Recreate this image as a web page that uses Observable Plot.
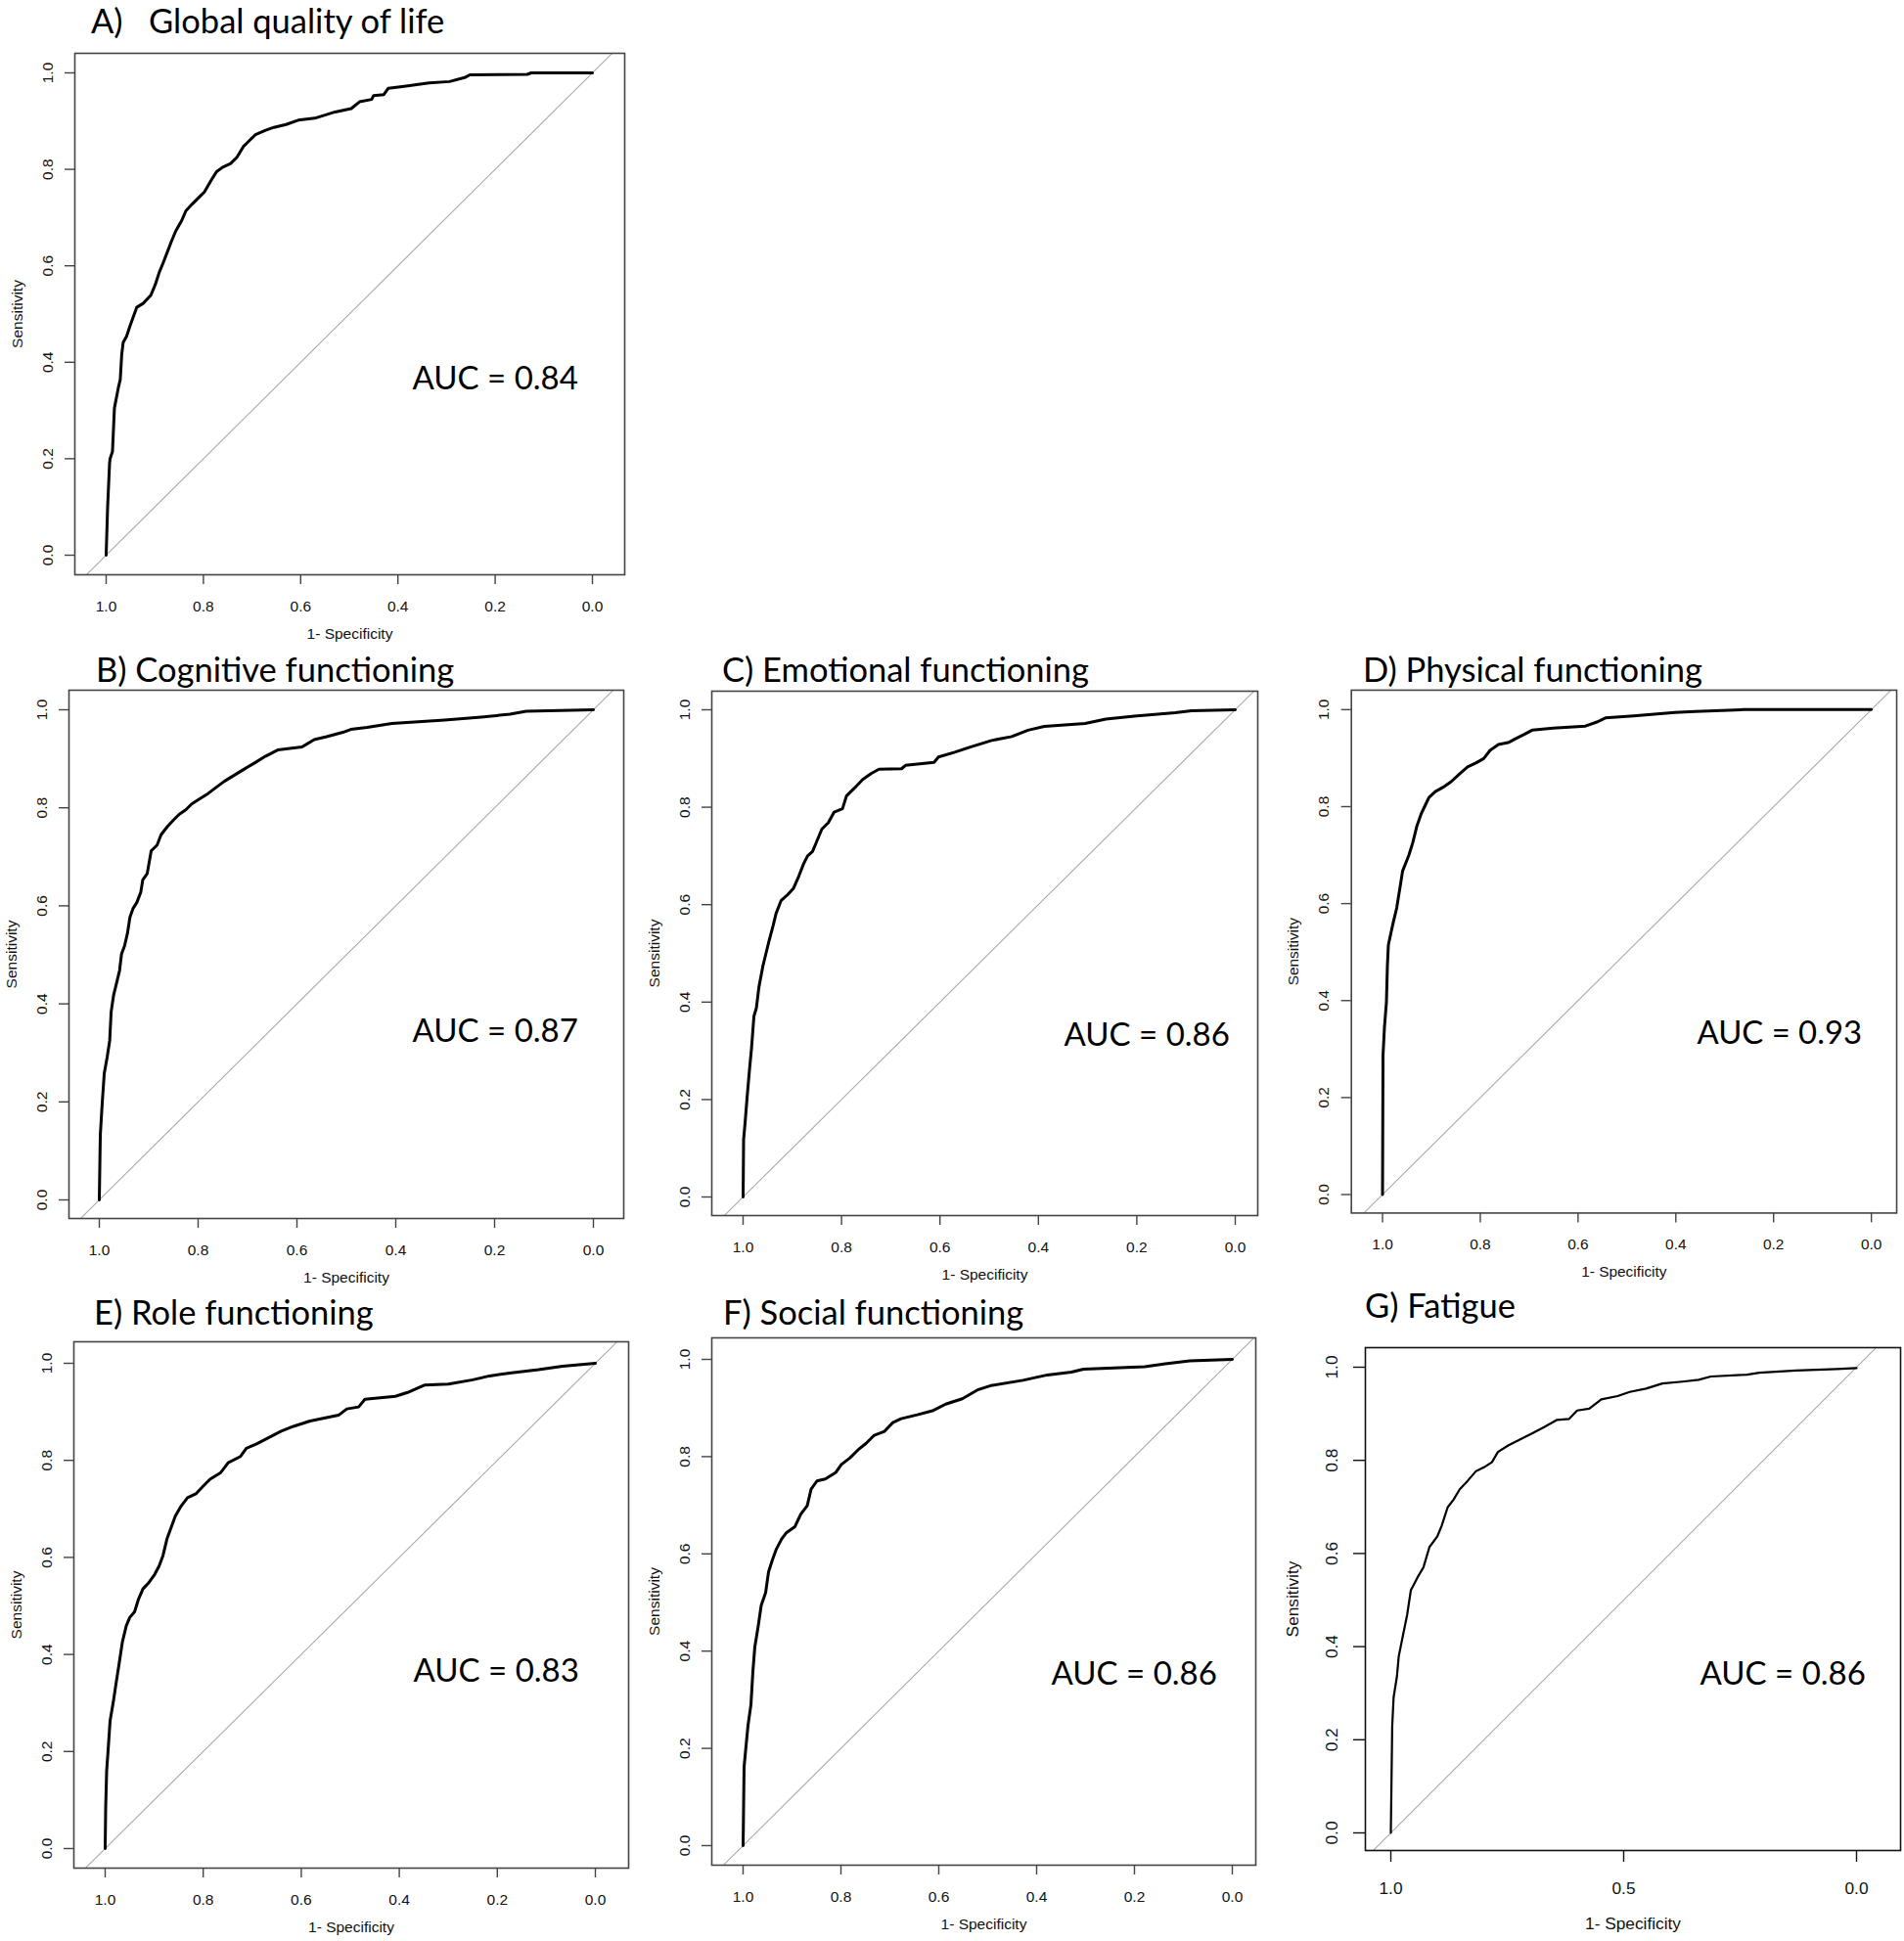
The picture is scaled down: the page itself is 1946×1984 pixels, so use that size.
<!DOCTYPE html>
<html>
<head>
<meta charset="utf-8">
<script src="https://cdn.jsdelivr.net/npm/d3@7"></script>
<script src="https://cdn.jsdelivr.net/npm/@observablehq/plot@0.6"></script>
<style>
  html, body { margin: 0; padding: 0; background: #fff; }
  #page { position: relative; width: 1946px; height: 1984px; background: #fff; }
  .panel { position: absolute; }
  .ptitle { position: absolute; font-family: Lato, "Open Sans", sans-serif; font-size: 34.5px; line-height: 34px; color: #000; white-space: pre; }
</style>
</head>
<body>
<div id="page"></div>
<script>
// ---------------- DATA ----------------
const panelTitles = [
  "A)   Global quality of life",
  "B) Cognitive functioning",
  "C) Emotional functioning",
  "D) Physical functioning",
  "E) Role functioning",
  "F) Social functioning",
  "G) Fatigue"
];
const aucValues = [0.84, 0.87, 0.86, 0.93, 0.83, 0.86, 0.86];

const xTicksFine = [1, 0.8, 0.6, 0.4, 0.2, 0];
const xTicksCoarse = [1, 0.5, 0];
const yTicks = [0, 0.2, 0.4, 0.6, 0.8, 1];

// A) Global quality of life (specificity, sensitivity)
const specA = [1, 0.997, 0.993, 0.992, 0.987, 0.983, 0.975, 0.971, 0.968, 0.965, 0.958, 0.951, 0.945, 0.937, 0.924, 0.908, 0.899, 0.891, 0.882, 0.874, 0.866, 0.857, 0.845, 0.836, 0.824, 0.811, 0.798, 0.786, 0.773, 0.761, 0.744, 0.731, 0.718, 0.706, 0.693, 0.672, 0.655, 0.630, 0.605, 0.571, 0.529, 0.496, 0.479, 0.454, 0.450, 0.429, 0.420, 0.387, 0.336, 0.294, 0.261, 0.252, 0.134, 0.126, 0];
const sensA = [0, 0.100, 0.190, 0.200, 0.215, 0.305, 0.347, 0.364, 0.416, 0.441, 0.454, 0.475, 0.492, 0.514, 0.522, 0.539, 0.561, 0.586, 0.608, 0.629, 0.650, 0.672, 0.693, 0.714, 0.727, 0.740, 0.753, 0.774, 0.795, 0.804, 0.812, 0.825, 0.847, 0.859, 0.872, 0.881, 0.887, 0.893, 0.902, 0.906, 0.919, 0.926, 0.940, 0.945, 0.953, 0.955, 0.968, 0.972, 0.979, 0.982, 0.991, 0.996, 0.997, 1.0, 1.0];

// B) Cognitive functioning
const specB = [1, 0.998, 0.994, 0.990, 0.984, 0.979, 0.976, 0.971, 0.965, 0.959, 0.955, 0.949, 0.943, 0.938, 0.932, 0.924, 0.916, 0.912, 0.903, 0.895, 0.883, 0.875, 0.862, 0.850, 0.838, 0.825, 0.813, 0.796, 0.780, 0.763, 0.747, 0.726, 0.705, 0.685, 0.664, 0.639, 0.590, 0.565, 0.540, 0.507, 0.491, 0.458, 0.408, 0.301, 0.227, 0.169, 0.136, 0];
const sensB = [0, 0.132, 0.199, 0.258, 0.292, 0.325, 0.384, 0.418, 0.443, 0.468, 0.502, 0.518, 0.544, 0.577, 0.594, 0.607, 0.628, 0.653, 0.666, 0.712, 0.724, 0.745, 0.762, 0.775, 0.787, 0.796, 0.808, 0.819, 0.829, 0.842, 0.854, 0.867, 0.880, 0.892, 0.905, 0.918, 0.924, 0.939, 0.945, 0.954, 0.960, 0.964, 0.972, 0.979, 0.985, 0.991, 0.997, 1.0];

// C) Emotional functioning
const specC = [1, 0.999, 0.996, 0.992, 0.987, 0.983, 0.978, 0.973, 0.968, 0.960, 0.954, 0.948, 0.939, 0.933, 0.923, 0.910, 0.898, 0.887, 0.877, 0.869, 0.859, 0.852, 0.840, 0.827, 0.815, 0.798, 0.790, 0.773, 0.757, 0.740, 0.724, 0.678, 0.670, 0.612, 0.603, 0.570, 0.537, 0.495, 0.454, 0.421, 0.388, 0.305, 0.263, 0.205, 0.122, 0.089, 0];
const sensC = [0, 0.118, 0.152, 0.203, 0.262, 0.304, 0.371, 0.388, 0.430, 0.473, 0.498, 0.523, 0.557, 0.582, 0.608, 0.620, 0.633, 0.658, 0.684, 0.700, 0.709, 0.726, 0.755, 0.768, 0.790, 0.797, 0.823, 0.840, 0.857, 0.869, 0.878, 0.879, 0.886, 0.892, 0.903, 0.913, 0.924, 0.937, 0.945, 0.958, 0.966, 0.972, 0.981, 0.987, 0.994, 0.998, 1.0];

// D) Physical functioning
const specD = [1, 0.999, 0.996, 0.992, 0.990, 0.988, 0.979, 0.971, 0.963, 0.959, 0.946, 0.938, 0.930, 0.921, 0.913, 0.905, 0.892, 0.876, 0.859, 0.842, 0.826, 0.809, 0.793, 0.780, 0.763, 0.743, 0.726, 0.710, 0.693, 0.651, 0.585, 0.560, 0.544, 0.486, 0.402, 0.361, 0.261, 0];
const sensD = [0, 0.287, 0.346, 0.397, 0.473, 0.515, 0.557, 0.591, 0.641, 0.667, 0.700, 0.726, 0.759, 0.785, 0.802, 0.819, 0.831, 0.840, 0.852, 0.868, 0.882, 0.890, 0.899, 0.916, 0.928, 0.932, 0.941, 0.949, 0.958, 0.962, 0.966, 0.975, 0.983, 0.987, 0.994, 0.996, 1.0, 1.0];

// E) Role functioning
const specE = [1, 0.999, 0.997, 0.994, 0.990, 0.983, 0.978, 0.972, 0.965, 0.957, 0.950, 0.940, 0.932, 0.923, 0.911, 0.899, 0.890, 0.882, 0.874, 0.865, 0.857, 0.845, 0.832, 0.815, 0.799, 0.786, 0.765, 0.749, 0.724, 0.712, 0.691, 0.666, 0.641, 0.616, 0.582, 0.524, 0.507, 0.483, 0.470, 0.408, 0.383, 0.349, 0.300, 0.250, 0.216, 0.175, 0.116, 0.067, 0];
const sensE = [0, 0.084, 0.160, 0.203, 0.263, 0.305, 0.339, 0.378, 0.425, 0.459, 0.476, 0.488, 0.514, 0.535, 0.548, 0.565, 0.582, 0.604, 0.638, 0.663, 0.685, 0.706, 0.723, 0.731, 0.748, 0.761, 0.774, 0.795, 0.808, 0.825, 0.834, 0.847, 0.860, 0.870, 0.881, 0.893, 0.906, 0.910, 0.926, 0.932, 0.940, 0.955, 0.957, 0.966, 0.974, 0.980, 0.987, 0.994, 1.0];

// F) Social functioning
const specF = [1, 0.998, 0.994, 0.990, 0.984, 0.980, 0.976, 0.969, 0.963, 0.954, 0.948, 0.940, 0.932, 0.921, 0.911, 0.894, 0.882, 0.869, 0.861, 0.849, 0.832, 0.811, 0.799, 0.782, 0.765, 0.749, 0.732, 0.711, 0.694, 0.677, 0.644, 0.611, 0.586, 0.552, 0.519, 0.494, 0.428, 0.378, 0.329, 0.304, 0.179, 0.137, 0.087, 0];
const sensF = [0, 0.162, 0.205, 0.247, 0.290, 0.358, 0.409, 0.452, 0.494, 0.520, 0.563, 0.588, 0.610, 0.631, 0.644, 0.656, 0.682, 0.699, 0.733, 0.750, 0.754, 0.767, 0.784, 0.797, 0.814, 0.827, 0.844, 0.852, 0.870, 0.878, 0.886, 0.895, 0.908, 0.919, 0.938, 0.946, 0.957, 0.968, 0.974, 0.980, 0.985, 0.991, 0.997, 1.0];

// G) Fatigue
const specG = [1, 0.997, 0.994, 0.987, 0.983, 0.974, 0.965, 0.957, 0.943, 0.930, 0.917, 0.900, 0.891, 0.878, 0.865, 0.852, 0.835, 0.817, 0.800, 0.783, 0.770, 0.748, 0.722, 0.696, 0.670, 0.643, 0.617, 0.600, 0.574, 0.548, 0.513, 0.487, 0.452, 0.417, 0.374, 0.339, 0.313, 0.235, 0.209, 0.130, 0.043, 0];
const sensG = [0, 0.229, 0.291, 0.335, 0.379, 0.424, 0.468, 0.521, 0.548, 0.570, 0.614, 0.637, 0.659, 0.699, 0.716, 0.738, 0.756, 0.777, 0.785, 0.796, 0.818, 0.832, 0.845, 0.858, 0.872, 0.887, 0.889, 0.907, 0.911, 0.931, 0.938, 0.947, 0.954, 0.965, 0.969, 0.973, 0.980, 0.984, 0.988, 0.993, 0.996, 0.998];

const curves = [[specA, sensA], [specB, sensB], [specC, sensC], [specD, sensD], [specE, sensE], [specF, sensF], [specG, sensG]];

// ---------------- LAYOUT (page pixels) ----------------
const std = {tickFont: 15.5, tickSize: 10, xPad: 16, yPad: 13, xLabelOffset: 65, yLabelOffset: 65, lw: 3, frameColor: "#444", mL: 70, mR: 8, mT: 8, mB: 78, xTicks: xTicksFine};
const layout = [
  {...std, frame: [76, 54, 638, 587],    x1: 108,  x0: 605,  y1: 74,   y0: 567,  title: [93, 34],    auc: [421, 397]},
  {...std, frame: [70, 705, 637, 1245],  x1: 101,  x0: 606,  y1: 725,  y0: 1226, title: [98, 697],   auc: [421, 1064]},
  {...std, frame: [727, 706, 1285, 1242], x1: 759, x0: 1262, y1: 725,  y0: 1223, title: [738, 697],  auc: [1087, 1068]},
  {...std, frame: [1381, 705, 1941, 1242], x1: 1413, x0: 1915, y1: 725, y0: 1223, title: [1393, 697], auc: [1736, 1068]},
  {...std, frame: [75, 1371, 642, 1909],  x1: 107,  x0: 608,  y1: 1393, y0: 1889, title: [96, 1354],  auc: [422, 1718]},
  {...std, frame: [727, 1367, 1283, 1906], x1: 759, x0: 1259, y1: 1389, y0: 1886, title: [739, 1354], auc: [1074, 1721]},
  {...std, frame: [1395, 1377, 1942, 1891], x1: 1421, x0: 1897, y1: 1397, y0: 1873, title: [1395, 1347], auc: [1737, 1721],
    tickFont: 17.3, tickSize: 12, xPad: 20, yPad: 17, xLabelOffset: 80, yLabelOffset: 81, lw: 2.2, frameColor: "#111", mL: 90, mR: 3, mB: 92, xTicks: xTicksCoarse}
];

const page = document.getElementById("page");
const fmt = d3.format(".1f");

layout.forEach((lay, i) => {
  const [fl, ft, fr, fb] = lay.frame;
  const ux = lay.x0 - lay.x1, uy = lay.y0 - lay.y1;
  const xDomain = [1 + (lay.x1 - fl) / ux, -(fr - lay.x0) / ux];
  const yDomain = [-(fb - lay.y0) / uy, 1 + (lay.y1 - ft) / uy];
  const [spec, sens] = curves[i];
  const rows = spec.map((s, k) => ({spec: s, sens: sens[k]}));
  const diag = xDomain.map(x => ({x, y: 1 - x}));
  const width = fr - fl + lay.mL + lay.mR;
  const height = fb - ft + lay.mT + lay.mB;

  const chart = Plot.plot({
    width, height,
    marginLeft: lay.mL, marginRight: lay.mR, marginTop: lay.mT, marginBottom: lay.mB,
    style: {background: "transparent", overflow: "visible", fontFamily: "'Liberation Sans', Arial, sans-serif", fontSize: lay.tickFont + "px", color: "#111"},
    x: {domain: xDomain},
    y: {domain: yDomain},
    marks: [
      Plot.line(diag, {x: "x", y: "y", stroke: "#a9a9a9", strokeWidth: 1.1, clip: true}),
      Plot.line(rows, {x: "spec", y: "sens", stroke: "#000", strokeWidth: lay.lw, strokeLinejoin: "round", clip: true}),
      Plot.frame({stroke: lay.frameColor, strokeWidth: 1.6}),
      Plot.axisX(lay.xTicks, {tickFormat: fmt, tickSize: lay.tickSize, tickPadding: lay.xPad, stroke: lay.frameColor, strokeWidth: 1.4, fill: "#111", fontSize: lay.tickFont,
        label: "1- Specificity", labelAnchor: "center", labelArrow: "none", labelOffset: lay.xLabelOffset}),
      Plot.axisY(yTicks, {tickFormat: fmt, tickSize: lay.tickSize, tickPadding: lay.yPad, tickRotate: -90, stroke: lay.frameColor, strokeWidth: 1.4, fill: "#111", fontSize: lay.tickFont,
        label: "Sensitivity", labelAnchor: "center", labelArrow: "none", labelOffset: lay.yLabelOffset}),
      Plot.text([`AUC = ${aucValues[i].toFixed(2)}`], {text: d => d, frameAnchor: "top-left", dx: lay.auc[0] - fl, dy: lay.auc[1] - ft,
        textAnchor: "start", lineAnchor: "bottom", fontFamily: "Lato, 'Open Sans', sans-serif", fontSize: 33, fill: "#000"})
    ]
  });
  const holder = document.createElement("div");
  holder.className = "panel";
  holder.style.left = (fl - lay.mL) + "px";
  holder.style.top = (ft - lay.mT) + "px";
  holder.appendChild(chart);
  page.appendChild(holder);

  const t = document.createElement("div");
  t.className = "ptitle";
  t.textContent = panelTitles[i];
  t.style.left = lay.title[0] + "px";
  t.style.top = (lay.title[1] - 30) + "px";
  page.appendChild(t);
});
</script>
</body>
</html>
